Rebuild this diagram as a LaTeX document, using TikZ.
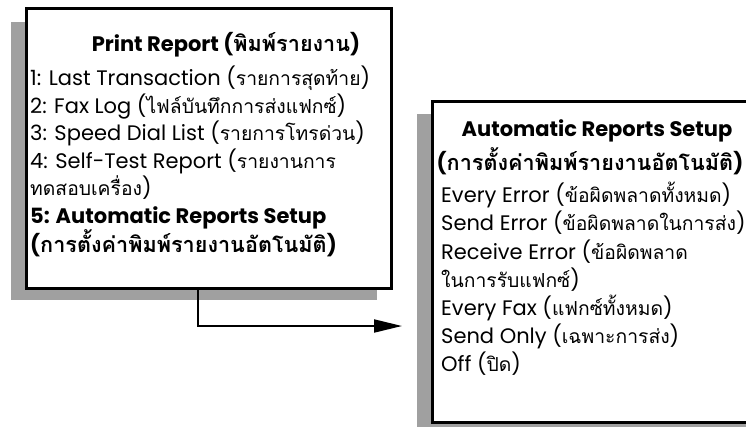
\documentclass[tikz,border=0pt]{standalone}
\usepackage{fontspec}
\usepackage{tikz}
\usetikzlibrary{arrows.meta}
\setmainfont{Poppins}
\newfontfamily\thaifont[Script=Thai, Scale=0.92, BoldFeatures={Scale=1.03}]{Loma}
\newcommand{\thtxt}[1]{{\thaifont #1}}
\definecolor{shadowgray}{RGB}{160,160,160}

\begin{document}
\begin{tikzpicture}[x=1pt,y=-1pt]
    \useasboundingbox (0,0) rectangle (746,426);
    \tikzset{
        shadowbox/.style={fill=shadowgray, anchor=north west, inner sep=0pt},
        menubox/.style={draw, line width=2.5pt, fill=white, anchor=north west, inner sep=0pt},
        menutext/.style={anchor=north west, align=left, inner sep=0pt,
            font=\fontsize{21}{27.5}\selectfont},
        menutitle/.style={inner sep=0pt, font=\fontsize{21}{27.5}\selectfont\bfseries}
    }

    % Print Report menu
    \node[shadowbox, minimum width=366pt, minimum height=278pt] (printshadow) at (11,22) {};
    \node[menubox, minimum width=365pt, minimum height=280pt] (printmenu) at (25,7) {};
    \node[menutitle] (printtitle) at (226,45) {Print Report (\thtxt{พิมพ์รายงาน})};
    \node[menutext] (printitems) at (30,66) {%
        1: Last Transaction (\thtxt{รายการสุดท้าย})\\
        2: Fax Log (\thtxt{ไฟล์บันทึกการส่งแฟกซ์})\\
        3: Speed Dial List (\thtxt{รายการโทรด่วน})\\
        4: Self-Test Report (\thtxt{รายงานการ}\\
        \thtxt{ทดสอบเครื่อง})\\
        \textbf{5: Automatic Reports Setup}\\
        \textbf{(\thtxt{การตั้งค่าพิมพ์รายงานอัตโนมัติ})}};

    % Automatic Reports Setup menu
    \node[shadowbox, minimum width=360pt, minimum height=330pt] (autoshadow) at (417,114) {};
    \node[menubox, minimum width=360pt, minimum height=321pt] (automenu) at (431,100) {};
    \node[menutitle] (autotitle) at (597,131) {Automatic Reports Setup};
    \node[menutitle] (autothai) at (590,161) {(\thtxt{การตั้งค่าพิมพ์รายงานอัตโนมัติ})};
    \node[menutext, font=\fontsize{21}{28.2}\selectfont] (autoitems) at (441,182) {%
        Every Error (\thtxt{ข้อผิดพลาดทั้งหมด})\\
        Send Error (\thtxt{ข้อผิดพลาดในการส่ง})\\
        Receive Error (\thtxt{ข้อผิดพลาด}\\
        \thtxt{ในการรับแฟกซ์})\\
        Every Fax (\thtxt{แฟกซ์ทั้งหมด})\\
        Send Only (\thtxt{เฉพาะการส่ง})\\
        Off (\thtxt{ปิด})};

    % Connection
    \coordinate (arrowend) at (402,326);
    \draw[line width=2pt, -{Triangle[length=28pt,width=13pt]}]
        ([xshift=-11pt]printmenu.south) |- (arrowend);
\end{tikzpicture}
\end{document}
